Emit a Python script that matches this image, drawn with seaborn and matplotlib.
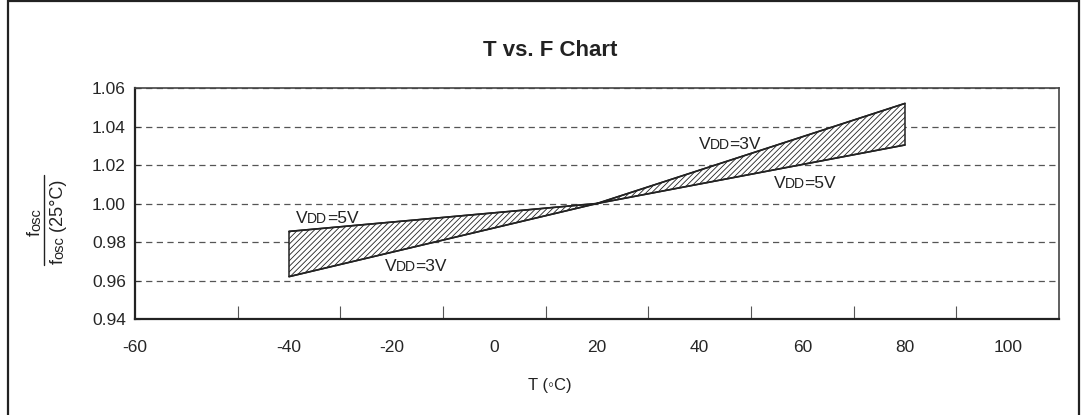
import numpy as np
import pandas as pd
import matplotlib
matplotlib.use("Agg")
import matplotlib.pyplot as plt
import seaborn as sns
from matplotlib.transforms import IdentityTransform
from matplotlib.lines import Line2D
from matplotlib.patches import Rectangle

# data
temps = [-40, 20, 80]
vdd5 = [0.9855, 1.000, 1.0304]
vdd3 = [0.962, 1.000, 1.052]

x_tick_pos = [-70, -40, -20, 0, 20, 40, 60, 80, 100]
x_tick_labels = ["-60", "-40", "-20", "0", "20", "40", "60", "80", "100"]
x_minor = [-50, -30, -10, 10, 30, 50, 70, 90]
y_ticks = [0.94, 0.96, 0.98, 1.00, 1.02, 1.04, 1.06]
y_tick_labels = ["0.94", "0.96", "0.98", "1.00", "1.02", "1.04", "1.06"]

# (x, y) of each line label in data units, and which supply it names
labels = [(-38.6, 0.9899, "5V"), (-21.3, 0.9649, "3V"),
          (39.8, 1.0283, "3V"), (54.4, 1.008, "5V")]

sns.set_style("white")
plt.rcParams['font.family'] = ['Liberation Sans', 'DejaVu Sans']
plt.rcParams['hatch.linewidth'] = 0.6
plt.rcParams['hatch.color'] = '#222222'

W, H = 1082, 415
fig = plt.figure(figsize=(W / 100, H / 100), dpi=100)
ax = fig.add_axes([135 / W, (H - 319) / H, (1059 - 135) / W, (319 - 88) / H])

df = pd.DataFrame({"T": temps * 2, "ratio": vdd5 + vdd3,
                   "VDD": ["5V"] * 3 + ["3V"] * 3})

ax.fill_between(temps, vdd3, vdd5, facecolor='white', edgecolor='#222222',
                hatch='//////', linewidth=1.1, zorder=2)
sns.lineplot(data=df, x="T", y="ratio", hue="VDD", palette=['#222222', '#222222'],
             legend=False, linewidth=1.2, ax=ax, zorder=3)

ax.set_xlim(-70, 110)
ax.set_ylim(0.94, 1.06)
ax.set_xlabel("")
ax.set_ylabel("")

ax.set_xticks(x_tick_pos)
ax.set_xticklabels(x_tick_labels, fontsize=12.5)
ax.set_xticks(x_minor, minor=True)
ax.tick_params(axis='x', which='major', length=0, pad=15)
ax.tick_params(axis='x', which='minor', direction='in', length=9.5, width=0.8,
               color='#555555', bottom=True)
ax.set_yticks(y_ticks)
ax.set_yticklabels(y_tick_labels, fontsize=12.5)
ax.tick_params(axis='y', direction='in', length=3.5, width=0.8, color='#333333',
               left=True, pad=6.5)

ax.grid(axis='y', linestyle=(0, (5, 3.5)), color='#555555', linewidth=0.9)
for s in ['left', 'bottom']:
    ax.spines[s].set_linewidth(1.6)
    ax.spines[s].set_color('#222222')
for s in ['top', 'right']:
    ax.spines[s].set_linewidth(1.2)
    ax.spines[s].set_color('#444444')

renderer = fig.canvas.get_renderer()


def mixed_text(x, y, parts, rotation=0, center=False):
    # parts: list of (string, fontsize), drawn one after another on one baseline
    texts = []
    for s, size in parts:
        t = fig.text(0, 0, s, fontsize=size, rotation=rotation, rotation_mode='anchor',
                     ha='left', va='baseline', transform=IdentityTransform(),
                     color='#222222')
        texts.append(t)
    lens = []
    for t in texts:
        bb = t.get_window_extent(renderer)
        lens.append(bb.height if rotation == 90 else bb.width)
    pos = -sum(lens) / 2 if center else 0
    for t, L in zip(texts, lens):
        if rotation == 90:
            t.set_position((x, y + pos))
        else:
            t.set_position((x + pos, y))
        pos += L - 0.5


for lx, ly, v in labels:
    px, py = ax.transData.transform((lx, ly))
    mixed_text(px, py, [("V", 12.5), ("DD", 10), ("=" + v, 12.5)])

# title and axis labels
fig.text(550 / W, (H - 50) / H, "T vs. F Chart", ha='center', va='center',
         fontsize=16, fontweight='bold', color='#222222')
fig.text(550 / W, (H - 385) / H, "T (\u25e6C)", ha='center', va='center',
         fontsize=12, color='#222222')

# fraction label on the y axis
mixed_text(40, H - 222, [("f", 13), ("osc", 10.5)], rotation=90, center=True)
mixed_text(63, H - 221, [("f", 13), ("osc", 10.5), (" (25°C)", 13)],
           rotation=90, center=True)
fig.add_artist(Line2D([44, 44], [H - 175, H - 265], transform=IdentityTransform(),
                      color='#222222', linewidth=1.0))

# outer frame
fig.add_artist(Rectangle((7.5 / W, -0.01), (1079 - 7.5) / W, 1.01 - 1.5 / H,
                         transform=fig.transFigure, fill=False,
                         edgecolor='#222222', linewidth=1.6))

fig.savefig("out.png", dpi=100)
